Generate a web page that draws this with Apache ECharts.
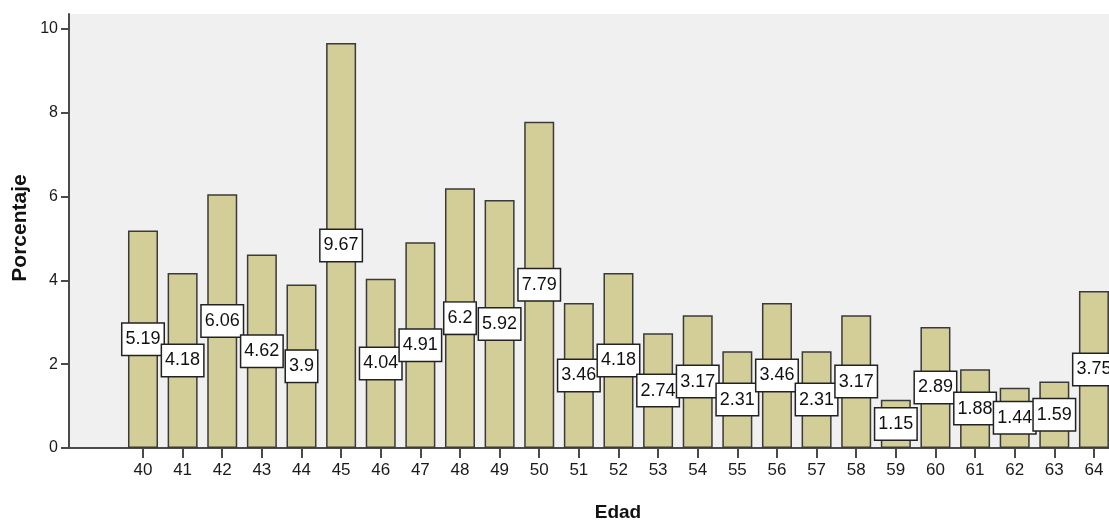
<!DOCTYPE html>
<html>
<head>
<meta charset="utf-8">
<title>Porcentaje por edad</title>
<script src="https://cdn.jsdelivr.net/npm/echarts@6/dist/echarts.min.js"></script>
<style>
  html, body { margin: 0; padding: 0; background: #ffffff; }
  #chart { width: 1109px; height: 524px; }
</style>
</head>
<body>
<div id="chart"></div>
<script>
// Edad (años) y porcentaje de casos en cada edad
const edades = [40, 41, 42, 43, 44, 45, 46, 47, 48, 49, 50, 51, 52, 53, 54, 55, 56, 57, 58, 59, 60, 61, 62, 63, 64];
const porcentajes = [5.19, 4.18, 6.06, 4.62, 3.9, 9.67, 4.04, 4.91, 6.2, 5.92, 7.79, 3.46, 4.18, 2.74, 3.17, 2.31, 3.46, 2.31, 3.17, 1.15, 2.89, 1.88, 1.44, 1.59, 3.75];
const ticksY = [0, 2, 4, 6, 8, 10];

const FONT = '"Liberation Sans", Arial, sans-serif';

const chart = echarts.init(document.getElementById('chart'), null, { renderer: 'canvas' });

chart.setOption({
  animation: false,
  backgroundColor: '#ffffff',
  grid: {
    left: 69, right: 0, top: 14, bottom: 76,
    show: true, backgroundColor: '#f0f0f0', borderWidth: 0
  },
  xAxis: {
    type: 'value',
    min: 38.1325,
    max: 64.38,
    splitLine: { show: false },
    axisLine: { show: true, onZero: false, lineStyle: { color: '#4a4a4a', width: 2 } },
    axisTick: { show: true, customValues: edades, length: 10, lineStyle: { color: '#4a4a4a', width: 2 } },
    axisLabel: {
      customValues: edades, margin: 14,
      color: '#1a1a1a', fontFamily: FONT, fontSize: 17
    }
  },
  yAxis: {
    type: 'value',
    min: 0,
    max: 10.36,
    splitLine: { show: false },
    axisLine: { show: true, lineStyle: { color: '#4a4a4a', width: 2 } },
    axisTick: { show: true, customValues: ticksY, length: 8, lineStyle: { color: '#4a4a4a', width: 2 } },
    axisLabel: {
      customValues: ticksY, margin: 11,
      color: '#1a1a1a', fontFamily: FONT, fontSize: 16
    }
  },
  graphic: [
    {
      type: 'text', x: 20, y: 228, rotation: Math.PI / 2,
      style: {
        text: 'Porcentaje', fill: '#111', font: 'bold 21px ' + FONT,
        align: 'center', verticalAlign: 'middle'
      }
    },
    {
      type: 'text', x: 618, y: 513,
      style: {
        text: 'Edad', fill: '#111', font: 'bold 19px ' + FONT,
        align: 'center', verticalAlign: 'middle'
      }
    }
  ],
  series: [{
    type: 'bar',
    data: edades.map((e, i) => [e, porcentajes[i]]),
    barWidth: 30,
    itemStyle: { color: '#d3ce98', borderColor: '#3a3a3a', borderWidth: 1.5 },
    label: {
      show: true,
      position: 'inside',
      formatter: p => String(p.value[1]),
      color: '#111',
      fontFamily: FONT,
      fontSize: 18,
      lineHeight: 22,
      backgroundColor: '#ffffff',
      borderColor: '#222222',
      borderWidth: 1.5,
      padding: [5, 3, 4, 3]
    }
  }]
});
</script>
</body>
</html>
